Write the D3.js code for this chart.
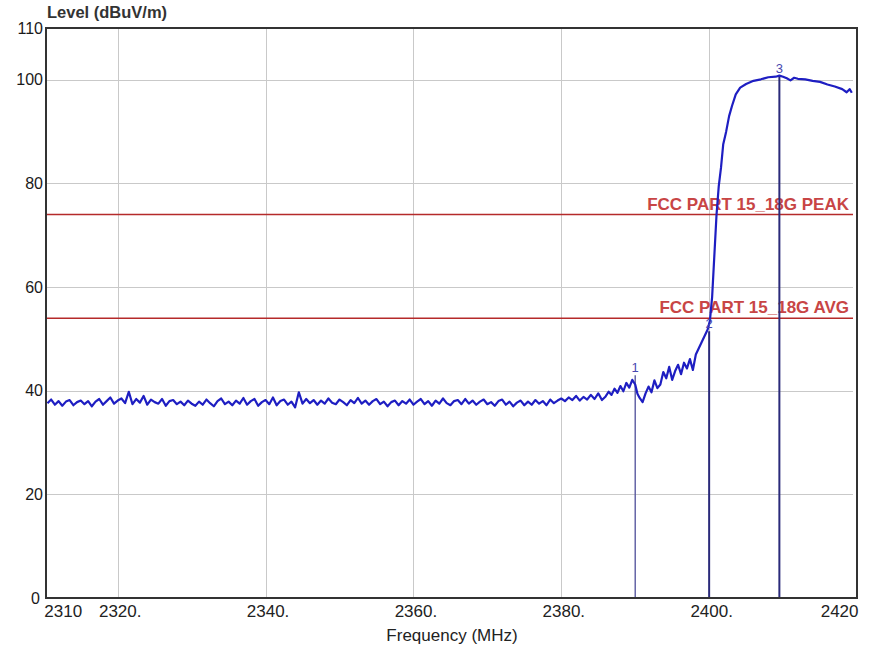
<!DOCTYPE html>
<html>
<head>
<meta charset="utf-8">
<script src="https://cdn.jsdelivr.net/npm/d3@7"></script>
<style>
  body { margin: 0; background: #fff; }
  svg { display: block; }
  .tick line { shape-rendering: crispEdges; }
</style>
</head>
<body>
<svg id="chart" width="874" height="649"></svg>
<script>
// y axis
const yTicks = [0, 20, 40, 60, 80, 100, 110];
const yGrid = [20, 40, 60, 80, 100];
// x axis
const xTicks = [2310, 2320, 2340, 2360, 2380, 2400, 2420];
const xTickLabels = ["2310", "2320.", "2340.", "2360.", "2380.", "2400.", "2420"];
const xGrid = [2320, 2340, 2360, 2380, 2400];

// limit lines
const limitNames = ["FCC PART 15_18G PEAK", "FCC PART 15_18G AVG"];
const limitLevels = [74, 54];

// noise floor, every 0.5 MHz from 2310.5 to 2385.5
const floorStart = 2310.5;
const floorStep = 0.5;
const floorLevels = [
  37.6, 38.3, 37.3, 38.0, 37.1, 37.9, 38.2, 37.2, 37.8, 38.1,
  37.4, 38.0, 37.0, 37.9, 38.4, 37.3, 38.0, 38.7, 37.5, 38.1,
  38.5, 37.6, 39.8, 37.4, 38.4, 37.7, 39.0, 37.3, 38.3, 37.8,
  37.5, 38.4, 37.1, 38.0, 38.2, 37.4, 37.9, 37.2, 38.1, 37.5,
  37.1, 37.9, 37.3, 38.3, 37.6, 37.0, 38.0, 38.5, 37.4, 37.9,
  37.2, 38.1, 37.5, 38.6, 37.3, 38.0, 38.4, 37.1, 37.8, 38.2,
  37.4, 38.7, 37.2, 38.0, 38.3, 37.3, 37.9, 36.8, 39.7, 37.5,
  38.4, 37.6, 38.2, 37.3, 38.1, 37.5, 38.5, 37.7, 37.4, 38.3,
  37.8, 37.2, 38.2, 37.6, 38.6, 37.5, 38.1, 37.3, 38.0, 38.4,
  37.4, 37.9, 37.0, 37.8, 38.1, 37.2, 38.0, 37.5, 38.3, 37.3,
  37.9, 38.4, 37.4, 38.0, 37.1, 38.1, 37.5, 38.5, 37.6, 37.2,
  38.0, 38.2, 37.4, 38.4, 37.5, 38.1, 37.3, 37.9, 38.3, 37.4,
  37.8, 37.1, 38.0, 38.3, 37.3, 37.9, 37.0, 37.7, 38.1, 37.2,
  37.9, 37.3, 38.2, 37.5, 38.0, 37.2, 38.3, 37.6, 38.1, 38.5,
  38.0, 38.7, 38.2, 39.0, 38.1, 38.8, 38.3, 39.2, 38.4, 39.5,
  38.2
];

// band edge and carrier
const edgeFreqs = [
  2386.0, 2386.4, 2386.8, 2387.2, 2387.6, 2388.0, 2388.4, 2388.8, 2389.2, 2389.6,
  2390.0, 2390.3, 2390.6, 2391.0, 2391.4, 2391.8, 2392.2, 2392.6, 2393.0, 2393.4,
  2393.8, 2394.2, 2394.6, 2395.0, 2395.4, 2395.8, 2396.2, 2396.6, 2397.0, 2397.4,
  2397.8, 2398.2, 2398.6, 2399.0, 2399.4, 2399.8, 2400.1, 2400.4, 2400.7, 2401.0,
  2401.3, 2401.6, 2401.9, 2402.3, 2402.7, 2403.1, 2403.6, 2404.2, 2405.0, 2406.0,
  2407.0, 2408.0, 2409.0, 2409.5, 2410.0, 2410.5, 2411.0, 2411.5, 2412.0, 2413.0,
  2414.0, 2415.0, 2416.0, 2417.0, 2418.0, 2418.6, 2419.0, 2419.3
];
const edgeLevels = [
  38.9, 39.8, 39.2, 40.4, 39.6, 40.9, 39.9, 41.5, 40.6, 42.1,
  41.2, 39.4, 38.6, 37.8, 39.5, 40.8, 39.7, 42.0, 40.5, 41.2,
  43.6, 42.4, 44.6, 42.1, 43.8, 45.0, 43.2, 45.4, 44.3, 46.1,
  44.0, 47.0, 48.2, 49.4, 50.6, 51.8, 53.5, 58.0, 66.0, 74.0,
  79.5, 83.0, 87.5, 90.0, 93.0, 95.0, 97.2, 98.5, 99.2, 99.8,
  100.1, 100.5, 100.6, 100.8, 100.6, 100.3, 99.9, 100.4, 100.2, 100.1,
  99.8, 99.6, 99.1, 98.7, 98.2, 97.6, 98.2, 97.5
];

// markers
const markerNames = ["1", "2", "3"];
const markerFreqs = [2390.0, 2400.0, 2409.5];
const markerLevels = [43.0, 51.5, 100.8];

const svg = d3.select("#chart");
const plotLeft = 46, plotRight = 857, plotTop = 28, plotBottom = 598;

const x = d3.scaleLinear().domain([2310.3, 2420]).range([plotLeft, plotRight]);
const y = d3.scaleLinear().domain([0, 110]).range([plotBottom, plotTop]);

const trace = floorLevels.map((v, i) => ({ f: floorStart + i * floorStep, v: v }))
  .concat(edgeFreqs.map((f, i) => ({ f: f, v: edgeLevels[i] })));

// grid
svg.append("g")
  .attr("transform", `translate(0,${plotBottom})`)
  .call(d3.axisBottom(x).tickValues(xGrid).tickSize(-(plotBottom - plotTop)).tickFormat(""))
  .call(g => g.select(".domain").remove())
  .call(g => g.selectAll("line").attr("stroke", "#c9c9c9"));

svg.append("g")
  .attr("transform", `translate(${plotLeft},0)`)
  .call(d3.axisLeft(y).tickValues(yGrid).tickSize(-(plotRight - 4 - plotLeft)).tickFormat(""))
  .call(g => g.select(".domain").remove())
  .call(g => g.selectAll("line").attr("stroke", "#c9c9c9"));

// limit lines
const limits = svg.append("g");
limits.selectAll("line")
  .data(limitLevels)
  .join("line")
  .attr("x1", plotLeft).attr("x2", plotRight - 4)
  .attr("y1", d => y(d)).attr("y2", d => y(d))
  .attr("stroke", "#b52a2a")
  .attr("stroke-width", 1.6);
limits.selectAll("text")
  .data(limitNames)
  .join("text")
  .attr("x", plotRight - 8)
  .attr("y", (d, i) => y(limitLevels[i]) - 5)
  .attr("text-anchor", "end")
  .attr("font-family", "Liberation Sans, Arial, sans-serif")
  .attr("font-size", 17)
  .attr("font-weight", "bold")
  .attr("fill", "#c84545")
  .text(d => d);

// marker lines
svg.append("g")
  .selectAll("line")
  .data(markerFreqs)
  .join("line")
  .attr("x1", d => x(d)).attr("x2", d => x(d))
  .attr("y1", (d, i) => y(markerLevels[i])).attr("y2", plotBottom)
  .attr("stroke", (d, i) => i == 0 ? "#5a5aa0" : "#2a2a7a")
  .attr("stroke-width", (d, i) => i == 0 ? 1.4 : 2);

// trace
const line = d3.line()
  .x(d => x(d.f))
  .y(d => y(d.v));

svg.append("path")
  .datum(trace)
  .attr("fill", "none")
  .attr("stroke", "#1e1ec2")
  .attr("stroke-width", 2.2)
  .attr("stroke-linejoin", "round")
  .attr("d", line);

svg.append("g")
  .selectAll("text")
  .data(markerNames)
  .join("text")
  .attr("x", (d, i) => x(markerFreqs[i]))
  .attr("y", (d, i) => y(markerLevels[i]) - 3)
  .attr("text-anchor", "middle")
  .attr("font-family", "Liberation Sans, Arial, sans-serif")
  .attr("font-size", 13)
  .attr("fill", "#4848b0")
  .text(d => d);

// frame
svg.append("rect")
  .attr("x", plotLeft).attr("y", plotTop)
  .attr("width", plotRight - plotLeft).attr("height", plotBottom - plotTop)
  .attr("fill", "none")
  .attr("stroke", "#333")
  .attr("stroke-width", 2);

// axes labels
const yAxis = svg.append("g")
  .attr("transform", `translate(${plotLeft - 2},0)`)
  .call(d3.axisLeft(y).tickValues(yTicks).tickSize(0).tickPadding(1))
  .call(g => g.select(".domain").remove());
yAxis.selectAll("text")
  .attr("font-family", "Liberation Sans, Arial, sans-serif")
  .attr("font-size", 16)
  .attr("fill", "#1a1a1a")
  .attr("dx", d => d == 0 ? -3 : 0);

const xAxis = svg.append("g")
  .attr("transform", `translate(0,${plotBottom})`)
  .call(d3.axisBottom(x).tickValues(xTicks).tickSize(0).tickPadding(7)
    .tickFormat((d, i) => xTickLabels[i]))
  .call(g => g.select(".domain").remove());
xAxis.selectAll("text")
  .attr("font-family", "Liberation Sans, Arial, sans-serif")
  .attr("font-size", 17)
  .attr("fill", "#222")
  .attr("text-anchor", (d, i) => i == 0 ? "start" : i == xTicks.length - 1 ? "end" : "middle")
  .attr("dx", (d, i) => i == 0 ? 0 : i == xTicks.length - 1 ? 1 : 2);

svg.append("text")
  .attr("x", plotLeft + 1).attr("y", 18)
  .attr("font-family", "Liberation Sans, Arial, sans-serif")
  .attr("font-size", 16.5)
  .attr("font-weight", "bold")
  .attr("fill", "#333")
  .text("Level (dBuV/m)");

svg.append("text")
  .attr("x", 452).attr("y", 641)
  .attr("text-anchor", "middle")
  .attr("font-family", "Liberation Sans, Arial, sans-serif")
  .attr("font-size", 17)
  .attr("fill", "#222")
  .text("Frequency (MHz)");
</script>
</body>
</html>
